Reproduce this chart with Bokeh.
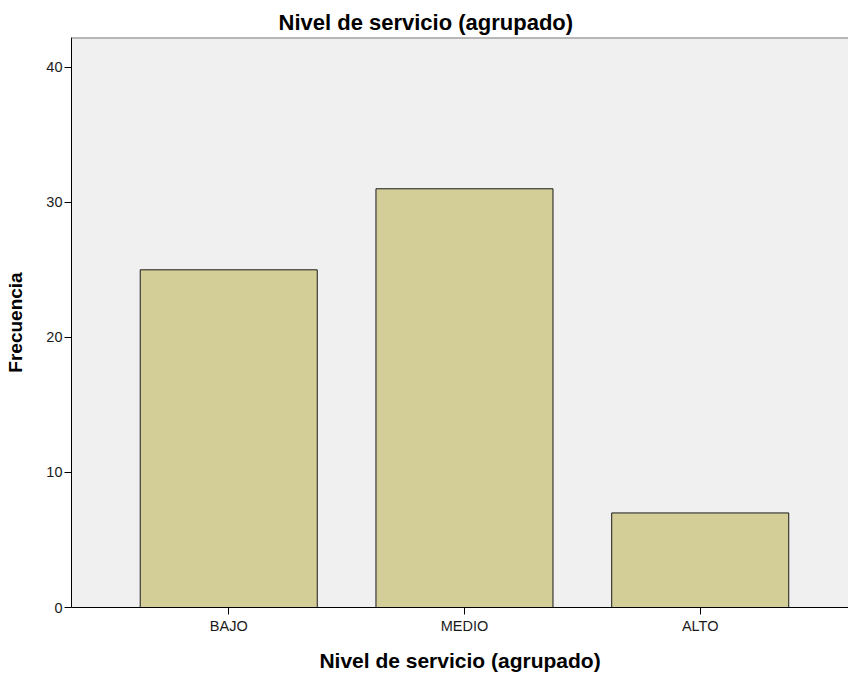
from bokeh.plotting import figure
from bokeh.models import FixedTicker, Span, Range1d, ColumnDataSource
from bokeh.embed import file_html
from bokeh.resources import INLINE

categories = ["BAJO", "MEDIO", "ALTO"]
frecuencia = [25, 31, 7]
y_ticks = [0, 10, 20, 30, 40]

positions = list(range(len(categories)))
source = ColumnDataSource(dict(x=positions, top=frecuencia, cat=categories))

FONT = "Liberation Sans"
Y_TOP = 42.2

p = figure(width=848, height=677, output_backend="svg", toolbar_location=None,
           x_range=Range1d(-0.667, 2.629), y_range=Range1d(0, Y_TOP),
           min_border_left=71, min_border_right=0, min_border_top=37,
           min_border_bottom=70)

p.background_fill_color = "#f0f0f0"
p.border_fill_color = "white"
p.outline_line_color = None
p.xgrid.grid_line_color = None
p.ygrid.grid_line_color = None

p.vbar(x="x", top="top", width=0.751, source=source,
       fill_color="#d3ce98", line_color="#1a1a1a", line_width=1)

p.add_layout(Span(location=Y_TOP, dimension="width", line_color="#7a7a7a", line_width=2))

p.title.text = "Nivel de servicio (agrupado)"
p.title.align = "left"
p.title.offset = 207
p.title.standoff = 6
p.title.text_font = FONT
p.title.text_font_size = "22px"
p.title.text_font_style = "bold"
p.title.text_color = "black"

for ax in (p.xaxis[0], p.yaxis[0]):
    ax.axis_line_color = "black"
    ax.axis_line_width = 1
    ax.major_tick_line_color = "black"
    ax.major_tick_in = 0
    ax.major_tick_out = 7
    ax.minor_tick_line_color = None
    ax.major_label_text_font = FONT
    ax.major_label_text_font_size = "14.5px"
    ax.major_label_text_color = "#1a1a1a"
    ax.axis_label_text_font = FONT
    ax.axis_label_text_font_style = "bold"
    ax.axis_label_text_color = "black"

p.xaxis.ticker = FixedTicker(ticks=positions)
p.xaxis.major_label_overrides = {i: c for i, c in zip(positions, categories)}
p.xaxis.axis_label = "Nivel de servicio (agrupado)"
p.xaxis.axis_label_text_font_size = "21px"
p.xaxis.major_label_standoff = 3
p.xaxis.axis_label_standoff = 12

p.yaxis.ticker = FixedTicker(ticks=y_ticks)
p.yaxis.axis_label = "Frecuencia"
p.yaxis.axis_label_text_font_size = "19px"
p.yaxis.major_label_standoff = 2
p.yaxis.axis_label_standoff = 17

open("out.html", "w").write(file_html(p, INLINE))
